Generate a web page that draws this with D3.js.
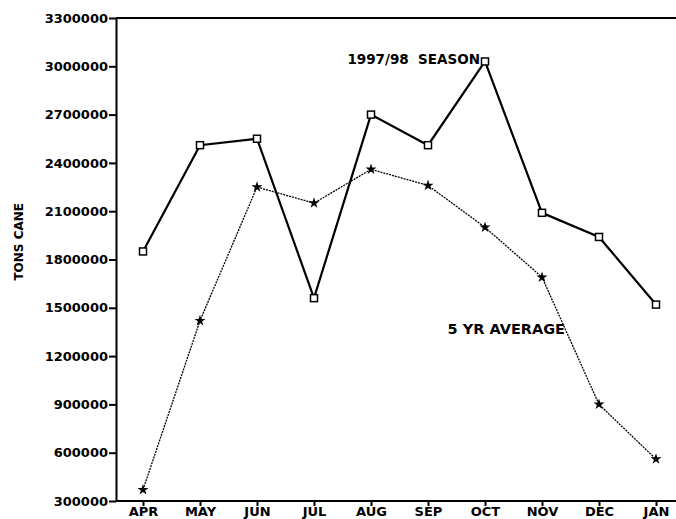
<html>
<head>
<style>
  body { margin: 0; background: #fff; }
  text { font-family: "DejaVu Sans", sans-serif; font-weight: bold; fill: #000; }
  .axis path, .axis line { stroke: #000; stroke-width: 2px; }
  .axis text { font-size: 13px; font-family: "DejaVu Sans", sans-serif; font-weight: bold; }
  .season { fill: none; stroke: #000; stroke-width: 2.2px; }
  .avg { fill: none; stroke: #000; stroke-width: 1.3px; stroke-dasharray: 2,1; }
</style>
</head>
<body>
<svg width="676" height="519"></svg>
<script src="https://cdn.jsdelivr.net/npm/d3@7"></script>
<script>

var months = ["APR","MAY","JUN","JUL","AUG","SEP","OCT","NOV","DEC","JAN"];

var season = [1850000,2510000,2550000,1560000,2700000,2510000,3030000,2090000,1940000,1520000];

var average = [370000,1420000,2250000,2150000,2360000,2260000,2000000,1690000,900000,560000];

var yTicks = [300000,600000,900000,1200000,1500000,1800000,2100000,2400000,2700000,3000000,3300000];

var svg = d3.select("svg"),
    plotLeft = 116, plotRight = 676, plotTop = 18, plotBottom = 501;

var x = d3.scalePoint()
    .domain(months)
    .range([143, 656]);

var y = d3.scaleLinear()
    .domain([300000, 3300000])
    .range([plotBottom, plotTop]);

// frame top line
svg.append("line")
    .attr("x1", plotLeft).attr("x2", plotRight)
    .attr("y1", plotTop).attr("y2", plotTop)
    .attr("stroke", "#000").attr("stroke-width", 2);

// y axis
svg.append("g")
    .attr("class", "axis")
    .attr("transform", "translate(" + plotLeft + ",0)")
    .call(d3.axisLeft(y).tickValues(yTicks).tickSize(7).tickSizeOuter(0).tickPadding(1).tickFormat(d3.format("d")));

// x axis
var gx = svg.append("g")
    .attr("class", "axis")
    .attr("transform", "translate(0," + plotBottom + ")")
    .call(d3.axisBottom(x).tickSize(5).tickSizeOuter(0).tickPadding(1));
gx.select(".domain").remove();
gx.selectAll("text").style("font-size", "13px");
gx.append("line")
    .attr("x1", plotLeft).attr("x2", plotRight)
    .attr("stroke", "#000").attr("stroke-width", 2);

// y title
svg.append("text")
    .attr("transform", "translate(23," + y(1910000) + ") rotate(-90)")
    .attr("text-anchor", "middle")
    .style("font-size", "12px")
    .text("TONS CANE");

var line = d3.line()
    .x(function(d, i) { return x(months[i]); })
    .y(function(d) { return y(d); });

// 5 yr average
svg.append("path")
    .datum(average)
    .attr("class", "avg")
    .attr("d", line);

svg.selectAll(".avgpt")
    .data(average)
  .enter().append("path")
    .attr("class", "avgpt")
    .attr("transform", function(d, i) { return "translate(" + x(months[i]) + "," + y(d) + ")"; })
    .attr("d", d3.symbol().type(d3.symbolStar).size(38))
    .attr("fill", "#000");

// 1997/98 season
svg.append("path")
    .datum(season)
    .attr("class", "season")
    .attr("d", line);

svg.selectAll(".seasonpt")
    .data(season)
  .enter().append("rect")
    .attr("class", "seasonpt")
    .attr("x", function(d, i) { return x(months[i]) - 3.5; })
    .attr("y", function(d) { return y(d) - 3.5; })
    .attr("width", 7)
    .attr("height", 7)
    .attr("fill", "#fff")
    .attr("stroke", "#000")
    .attr("stroke-width", 1.5);

// labels
svg.append("text")
    .attr("x", x("OCT") - 5)
    .attr("y", y(3030000) + 3)
    .attr("text-anchor", "end")
    .style("font-size", "13.5px")
    .attr("xml:space", "preserve")
    .text("1997/98  SEASON");

svg.append("text")
    .attr("x", x("NOV") + 23)
    .attr("y", y(1340000))
    .attr("text-anchor", "end")
    .style("font-size", "14.5px")
    .text("5 YR AVERAGE");

</script>
</body>
</html>
